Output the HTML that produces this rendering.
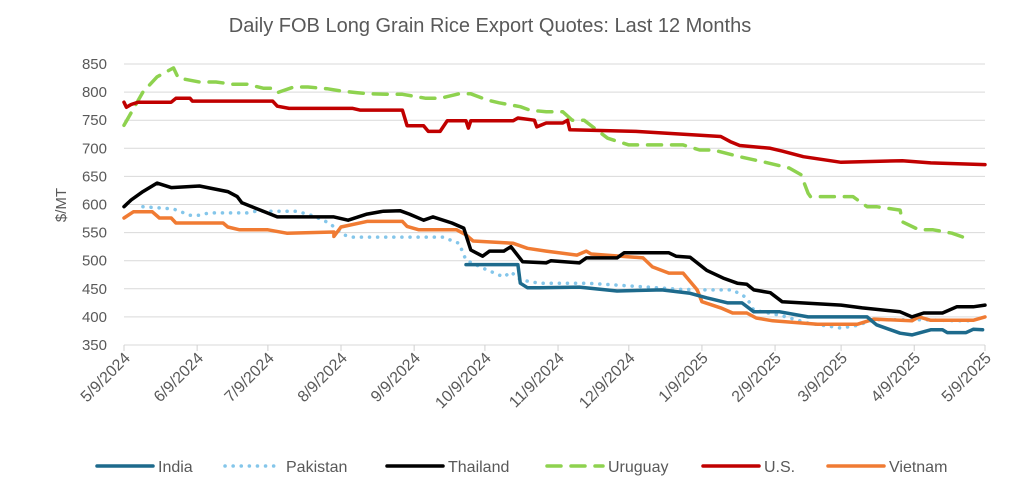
<!DOCTYPE html>
<html><head><meta charset="utf-8"><style>
body{margin:0;background:#fff;}
svg{display:block;font-family:"Liberation Sans",sans-serif;}
</style></head><body>
<svg id="chart" width="1034" height="493" viewBox="0 0 1034 493">
<text x="490" y="32" text-anchor="middle" font-size="20" fill="#595959">Daily FOB Long Grain Rice Export Quotes: Last 12 Months</text>
<text transform="translate(66,205) rotate(-90)" text-anchor="middle" font-size="15" fill="#595959">$/MT</text>
<g id="grid"></g><g id="yticks"></g><g id="xticks"></g><g id="series"></g><g id="legend"></g>
</svg>
<script>
const yTicks=[850,800,750,700,650,600,550,500,450,400,350];
const xTickDays=[0,31,61,92,123,153,184,214,245,276,304,335,365];
const xTickLabels=["5/9/2024","6/9/2024","7/9/2024","8/9/2024","9/9/2024","10/9/2024","11/9/2024","12/9/2024","1/9/2025","2/9/2025","3/9/2025","4/9/2025","5/9/2025"];
const seriesNames=["India","Pakistan","Thailand","Uruguay","U.S.","Vietnam"];
const indiaDays=[145,167,168,171,176,193,209,228,240,247,256,262,267,278,290,315,319,329,334,342,347,349,357,360,364];
const indiaVals=[493,493,460,452,452,453,446,448,442,434,425,425,409,409,400,400,386,371,368,377,377,372,372,378,377];
const pakDays=[8,21,28,32,36,52,56,73,80,87,93,97,135,142,145,152,161,164,168,176,196,219,236,247,258,264,267,278,290,304,311,318,339,353,360];
const pakVals=[596,592,581,581,585,585,588,588,580,567,546,542,542,531,501,487,471,480,466,460,460,454,449,448,448,434,412,403,389,380,385,395,395,393,393];
const thaiDays=[0,3,8,14,20,32,44,48,50,59,65,78,89,95,103,110,117,121,127,131,139,144,147,152,155,161,164,169,179,181,193,196,209,212,231,234,240,247,254,260,264,267,274,279,304,313,329,334,339,347,353,360,365];
const thaiVals=[596,608,623,638,630,633,623,614,603,588,578,578,578,572,583,588,589,583,572,578,567,558,519,508,517,517,525,498,496,500,496,505,505,514,514,508,506,483,469,460,458,448,443,427,421,416,409,400,407,407,418,418,421];
const uruDays=[0,8,14,21,23,32,39,46,52,59,63,65,72,78,86,92,99,104,113,118,128,134,142,147,154,159,168,172,179,186,190,195,205,214,237,244,250,261,273,282,287,290,291,309,315,319,329,330,337,343,351,357];
const uruVals=[741,800,827,843,825,818,818,814,814,807,807,799,809,809,806,802,799,797,796,796,789,789,797,797,786,781,774,768,765,765,750,750,718,706,706,697,697,685,674,665,653,620,614,614,596,596,590,569,555,555,549,540];
const usDays=[0,1,3,6,20,22,28,29,63,65,70,97,100,118,120,127,129,134,137,145,146,147,165,167,174,175,179,186,188,189,217,253,257,261,274,279,288,304,330,342,365];
const usVals=[782,773,778,782,782,789,789,784,784,775,771,771,768,768,740,740,730,730,749,749,736,749,749,754,750,738,745,745,750,733,730,721,712,705,700,695,685,675,678,674,671];
const vnDays=[0,4,12,15,20,22,42,44,49,61,69,89,89,92,103,118,120,125,141,145,148,165,171,179,192,196,198,220,224,231,237,243,245,253,258,264,268,275,294,311,318,334,337,342,360,365];
const vnVals=[576,587,587,576,576,567,567,560,555,555,549,551,543,560,570,570,561,555,555,546,535,531,522,517,510,517,512,505,489,478,478,448,427,416,407,407,398,393,387,387,396,393,400,394,394,400];

const NS="http://www.w3.org/2000/svg";
const X0=124,X1=985,Y0=64,Y1=345;
const xs=d=>X0+d*(X1-X0)/365;
const ys=v=>Y0+(850-v)*(Y1-Y0)/500;
function mk(tag,attrs,parent){const e=document.createElementNS(NS,tag);for(const k in attrs)e.setAttribute(k,attrs[k]);parent.appendChild(e);return e;}
const grid=document.getElementById('grid'),yt=document.getElementById('yticks'),xt=document.getElementById('xticks');
yTicks.forEach(v=>{
  const l=mk('line',{x1:X0,x2:X1,y1:ys(v),y2:ys(v),stroke:'#d9d9d9','stroke-width':1},grid);
  
  
  const t=mk('text',{x:107,y:ys(v)+5,'text-anchor':'end','font-size':15,fill:'#595959'},yt);
  t.textContent=v;
  
  
});
xTickDays.forEach((d,i)=>{
  const x=xs(d);
  const l=mk('line',{x1:x,x2:x,y1:Y1,y2:Y1+6,stroke:'#d0d0d0','stroke-width':1},xt);
  
  
  const t=mk('text',{transform:`translate(${x+7},${Y1+14}) rotate(-45)`,'text-anchor':'end','font-size':16,fill:'#595959'},xt);
  t.textContent=xTickLabels[i];
  
  
});
const styles=[
 {c:'#1d6a8c',dash:null,days:indiaDays,vals:indiaVals},
 {c:'#84c6ea',dash:'0.1 8',days:pakDays,vals:pakVals},
 {c:'#000000',dash:null,days:thaiDays,vals:thaiVals},
 {c:'#8ed24f',dash:'14 10',days:uruDays,vals:uruVals},
 {c:'#c00000',dash:null,days:usDays,vals:usVals},
 {c:'#f07b33',dash:null,days:vnDays,vals:vnVals}];
const sg=document.getElementById('series');
const order=[3,4,1,5,2,0];
order.forEach(i=>{
  const s=styles[i];
  const d=s.days.map((dd,j)=>(j?'L':'M')+xs(dd).toFixed(1)+' '+ys(s.vals[j]).toFixed(1)).join(' ');
  const a={d:d,fill:'none',stroke:s.c,'stroke-width':3.5,'stroke-linejoin':'round','stroke-linecap':'round'};
  if(s.dash)a['stroke-dasharray']=s.dash;
  const p=mk('path',a,sg);
  
  
});
const lg=document.getElementById('legend');
const lx=[97,225,387,547,703,828];
seriesNames.forEach((n,i)=>{
  const s=styles[i];
  const g=mk('g',{},lg);
  
  
  const a={x1:lx[i],x2:lx[i]+56,y1:466,y2:466,stroke:s.c,'stroke-width':3.5,'stroke-linecap':'round'};
  if(s.dash)a['stroke-dasharray']=s.dash;
  mk('line',a,g);
  const t=mk('text',{x:lx[i]+61,y:472,'font-size':16,fill:'#595959'},g);
  t.textContent=n;
});
</script>
</body></html>
